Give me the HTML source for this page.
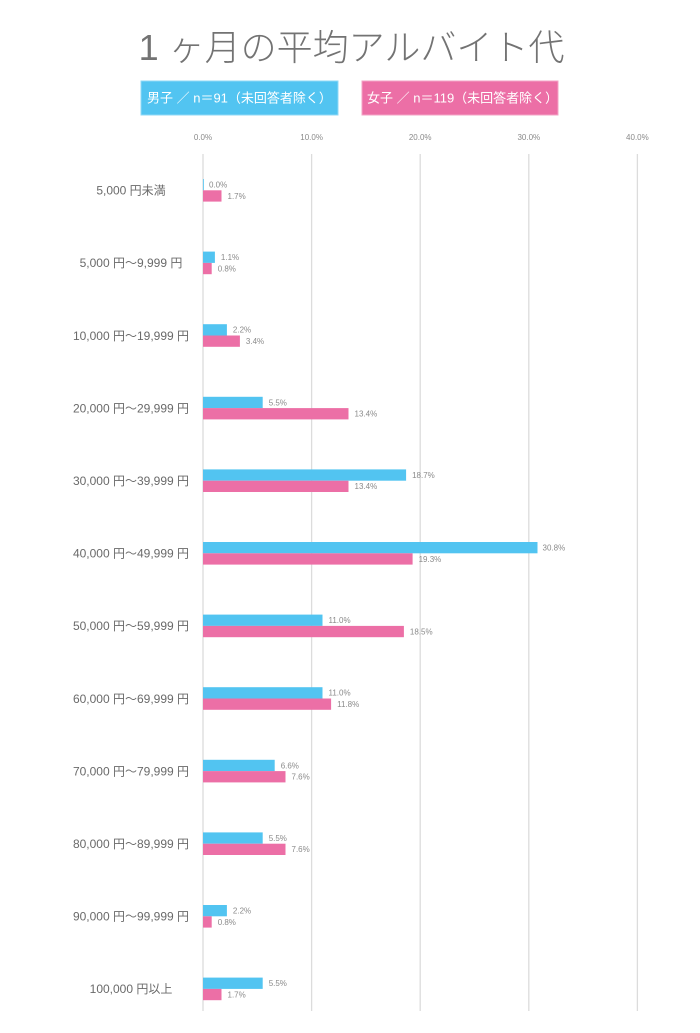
<!DOCTYPE html>
<html>
<head>
<meta charset="utf-8">
<style>
html,body{margin:0;padding:0;background:#fff;}
body{width:700px;height:1033px;overflow:hidden;}
svg{display:block;}
text{font-family:"Liberation Sans","Noto Sans CJK JP",sans-serif;}
.t{font-size:36px;fill:#737373;font-weight:300;}
.lg{font-size:13px;fill:#fff;}
.tk{font-size:8px;fill:#8a8a8a;}
.cat{font-size:12px;fill:#6a6a6a;}
.v{font-size:8px;fill:#8a8a8a;}
.b{fill:#52c4f1;}
.p{fill:#ec6fa6;}
.g{stroke:#dcdcdc;stroke-width:1.3;}
</style>
</head>
<body>
<svg width="700" height="1033" viewBox="0 0 700 1033" xmlns="http://www.w3.org/2000/svg">
<text class="t" x="351.5" y="60" text-anchor="middle">1 ヶ月の平均アルバイト代</text>

<rect x="141" y="81" width="197" height="34" fill="#52c4f1" stroke="#8fd9f6" stroke-width="1"/>
<text class="lg" x="147" y="102.5">男子 ／ n＝91（未回答者除く）</text>
<rect x="362" y="81" width="196" height="34" fill="#ec6fa6" stroke="#f3a3c6" stroke-width="1"/>
<text class="lg" x="367" y="102.5">女子 ／ n＝119（未回答者除く）</text>

<text class="tk" x="203" y="140" text-anchor="middle">0.0%</text>
<text class="tk" x="311.6" y="140" text-anchor="middle">10.0%</text>
<text class="tk" x="420.2" y="140" text-anchor="middle">20.0%</text>
<text class="tk" x="528.8" y="140" text-anchor="middle">30.0%</text>
<text class="tk" x="637.4" y="140" text-anchor="middle">40.0%</text>

<line class="g" x1="203" y1="154" x2="203" y2="1011"/>
<line class="g" x1="311.6" y1="154" x2="311.6" y2="1011"/>
<line class="g" x1="420.2" y1="154" x2="420.2" y2="1011"/>
<line class="g" x1="528.8" y1="154" x2="528.8" y2="1011"/>
<line class="g" x1="637.4" y1="154" x2="637.4" y2="1011"/>

<!-- row 0 -->
<text class="cat" x="131" y="194.6" text-anchor="middle">5,000 円未満</text>
<rect class="b" x="203" y="179" width="0.8" height="11.3"/>
<rect class="p" x="203" y="190.3" width="18.5" height="11.3"/>
<text class="v" x="209" y="187.5">0.0%</text>
<text class="v" x="227.5" y="198.8">1.7%</text>

<!-- row 1 -->
<text class="cat" x="131" y="267.2" text-anchor="middle">5,000 円～9,999 円</text>
<rect class="b" x="203" y="251.6" width="11.9" height="11.3"/>
<rect class="p" x="203" y="262.9" width="8.7" height="11.3"/>
<text class="v" x="220.9" y="260.1">1.1%</text>
<text class="v" x="217.7" y="271.4">0.8%</text>

<!-- row 2 -->
<text class="cat" x="131" y="339.8" text-anchor="middle">10,000 円～19,999 円</text>
<rect class="b" x="203" y="324.2" width="23.9" height="11.3"/>
<rect class="p" x="203" y="335.5" width="36.9" height="11.3"/>
<text class="v" x="232.9" y="332.7">2.2%</text>
<text class="v" x="245.9" y="344">3.4%</text>

<!-- row 3 -->
<text class="cat" x="131" y="412.4" text-anchor="middle">20,000 円～29,999 円</text>
<rect class="b" x="203" y="396.8" width="59.7" height="11.3"/>
<rect class="p" x="203" y="408.1" width="145.5" height="11.3"/>
<text class="v" x="268.7" y="405.3">5.5%</text>
<text class="v" x="354.5" y="416.6">13.4%</text>

<!-- row 4 -->
<text class="cat" x="131" y="485" text-anchor="middle">30,000 円～39,999 円</text>
<rect class="b" x="203" y="469.4" width="203.1" height="11.3"/>
<rect class="p" x="203" y="480.7" width="145.5" height="11.3"/>
<text class="v" x="412.1" y="477.9">18.7%</text>
<text class="v" x="354.5" y="489.2">13.4%</text>

<!-- row 5 -->
<text class="cat" x="131" y="557.6" text-anchor="middle">40,000 円～49,999 円</text>
<rect class="b" x="203" y="542" width="334.5" height="11.3"/>
<rect class="p" x="203" y="553.3" width="209.6" height="11.3"/>
<text class="v" x="542.5" y="550.5">30.8%</text>
<text class="v" x="418.6" y="561.8">19.3%</text>

<!-- row 6 -->
<text class="cat" x="131" y="630.2" text-anchor="middle">50,000 円～59,999 円</text>
<rect class="b" x="203" y="614.6" width="119.5" height="11.3"/>
<rect class="p" x="203" y="625.9" width="200.9" height="11.3"/>
<text class="v" x="328.5" y="623.1">11.0%</text>
<text class="v" x="409.9" y="634.4">18.5%</text>

<!-- row 7 -->
<text class="cat" x="131" y="702.8" text-anchor="middle">60,000 円～69,999 円</text>
<rect class="b" x="203" y="687.2" width="119.5" height="11.3"/>
<rect class="p" x="203" y="698.5" width="128.1" height="11.3"/>
<text class="v" x="328.5" y="695.7">11.0%</text>
<text class="v" x="337.1" y="707">11.8%</text>

<!-- row 8 -->
<text class="cat" x="131" y="775.4" text-anchor="middle">70,000 円～79,999 円</text>
<rect class="b" x="203" y="759.8" width="71.7" height="11.3"/>
<rect class="p" x="203" y="771.1" width="82.5" height="11.3"/>
<text class="v" x="280.7" y="768.3">6.6%</text>
<text class="v" x="291.5" y="779.6">7.6%</text>

<!-- row 9 -->
<text class="cat" x="131" y="848" text-anchor="middle">80,000 円～89,999 円</text>
<rect class="b" x="203" y="832.4" width="59.7" height="11.3"/>
<rect class="p" x="203" y="843.7" width="82.5" height="11.3"/>
<text class="v" x="268.7" y="840.9">5.5%</text>
<text class="v" x="291.5" y="852.2">7.6%</text>

<!-- row 10 -->
<text class="cat" x="131" y="920.6" text-anchor="middle">90,000 円～99,999 円</text>
<rect class="b" x="203" y="905" width="23.9" height="11.3"/>
<rect class="p" x="203" y="916.3" width="8.7" height="11.3"/>
<text class="v" x="232.9" y="913.5">2.2%</text>
<text class="v" x="217.7" y="924.8">0.8%</text>

<!-- row 11 -->
<text class="cat" x="131" y="993.2" text-anchor="middle">100,000 円以上</text>
<rect class="b" x="203" y="977.6" width="59.7" height="11.3"/>
<rect class="p" x="203" y="988.9" width="18.5" height="11.3"/>
<text class="v" x="268.7" y="986.1">5.5%</text>
<text class="v" x="227.5" y="997.4">1.7%</text>
</svg>
</body>
</html>
